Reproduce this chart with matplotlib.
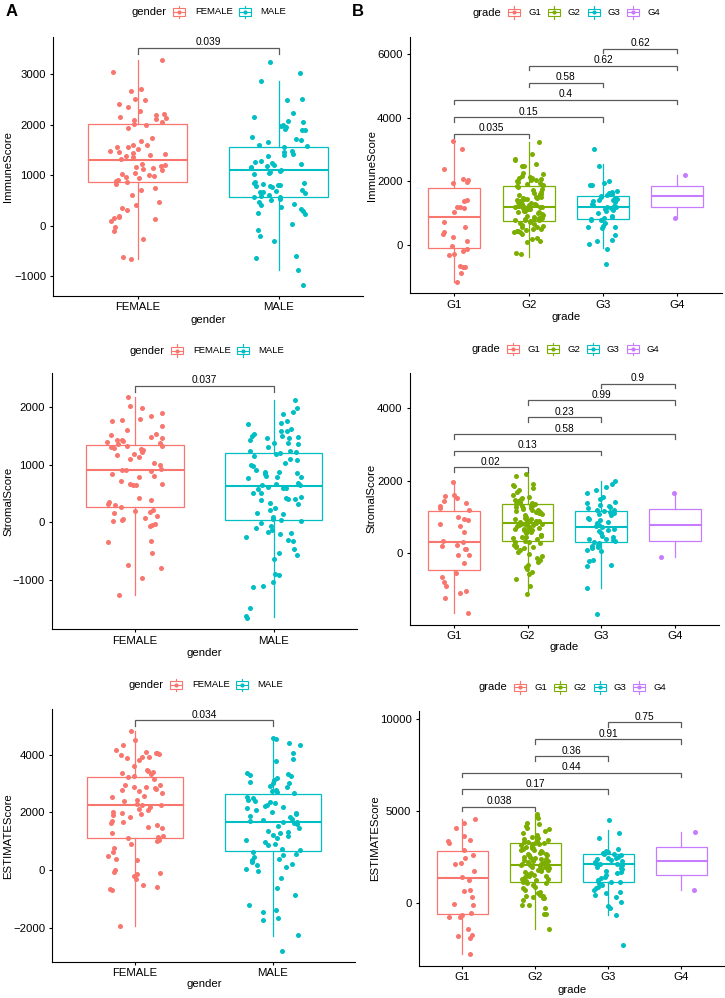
import numpy as np
import matplotlib
matplotlib.use("Agg")
import matplotlib.pyplot as plt
import matplotlib.transforms as mtransforms
from matplotlib.patches import Rectangle
from matplotlib.lines import Line2D

plt.rcParams['font.family'] = ['Liberation Sans', 'DejaVu Sans']

W, H, DPI = 725, 998, 100

# ---------------- categories / colours ----------------
gender_levels = ["FEMALE", "MALE"]
grade_levels = ["G1", "G2", "G3", "G4"]
gender_colors = ["#F8766D", "#00BFC4"]
grade_colors = ["#F8766D", "#7CAE00", "#00BFC4", "#C77CFF"]

# ---------------- ImmuneScore by gender ----------------
immune_female = [3280, 3040, 2700, 2660, 2510, 2480, 2400, 2350, 2280, 2220, 2200, 2160, 2130, 2110, 2090,
                 2050, 2020, 2000, 1940, 1740, 1680, 1600, 1590, 1560, 1550, 1520, 1480, 1460, 1440, 1420,
                 1400, 1370, 1350, 1320, 1220, 1200, 1180, 1160, 1150, 1120, 1100, 1040, 1020, 1000, 980,
                 960, 950, 910, 890, 860, 820, 740, 710, 610, 470, 400, 340, 310, 200, 180, 160, 140, 100,
                 -20, -110, -260, -630, -670]
immune_male = [3240, 3020, 2860, 2500, 2490, 2230, 2150, 2080, 2050, 2000, 1970, 1950, 1920, 1900, 1890,
               1750, 1720, 1690, 1650, 1600, 1570, 1550, 1470, 1450, 1420, 1390, 1380, 1280, 1260, 1240,
               1220, 1200, 1180, 1160, 1140, 1110, 1090, 1070, 1050, 1030, 860, 850, 840, 830, 810, 800,
               790, 780, 760, 700, 690, 670, 660, 640, 600, 580, 570, 560, 520, 500, 460, 430, 410, 370,
               330, 300, 250, 230, 40, -90, -210, -300, -610, -650, -870, -1180]
# box stats: [whisker low, Q1, median, Q3, whisker high]
immune_gender_box = [[-653, 865, 1294, 2007, 3287], [-871, 574, 1096, 1564, 2865]]
immune_gender_p = ["0.039"]
immune_gender_bracket_y = [3518]

# ---------------- ImmuneScore by grade ----------------
immune_g1 = [3280, 3020, 2380, 2080, 2040, 1980, 1940, 1410, 1370, 1210, 1200, 1150, 1050, 710, 580, 400,
             350, 240, 130, -30, -130, -180, -280, -330, -650, -680, -690, -870, -1180]
immune_g2 = [3240, 2860, 2710, 2660, 2540, 2500, 2480, 2250, 2230, 2170, 2140, 2120, 2100, 2070, 2040, 2010,
             1970, 1940, 1910, 1870, 1820, 1750, 1720, 1680, 1640, 1610, 1580, 1560, 1520, 1490, 1470, 1450,
             1440, 1400, 1370, 1340, 1320, 1290, 1270, 1250, 1230, 1210, 1200, 1180, 1140, 1120, 1100, 1080,
             1060, 1040, 1000, 940, 910, 880, 850, 840, 820, 810, 790, 770, 750, 700, 660, 640, 610, 580,
             510, 490, 470, 430, 420, 400, 360, 220, 180, 140, 100, -260, -300, 1600, 1500, 1350, 1300,
             1150, 1050, 960, 800, 720, 560, 450, 1900, 2050, 1180, 1220, 860]
immune_g3 = [3030, 2500, 2000, 1950, 1890, 1900, 1700, 1680, 1650, 1600, 1580, 1550, 1500, 1480, 1450, 1420,
             1400, 1380, 1340, 1300, 1250, 1230, 1200, 1180, 1150, 1120, 1100, 1060, 1000, 900, 870, 840,
             820, 800, 790, 700, 600, 560, 550, 540, 300, 170, 130, 20, -120, -610]
immune_g4 = [2200, 860]
immune_grade_box = [[-1175, -84, 881, 1783, 3252], [-367, 766, 1196, 1857, 3252],
                    [-105, 818, 1206, 1542, 2549], [860, 1195, 1530, 1865, 2200]]
grade_pairs = [(1, 2), (1, 3), (1, 4), (2, 3), (2, 4), (3, 4)]
immune_grade_p = ["0.035", "0.15", "0.4", "0.58", "0.62", "0.62"]
immune_grade_bracket_y = [3503, 4017, 4573, 5108, 5633, 6168]

# ---------------- StromalScore by gender ----------------
stromal_female = [2170, 2010, 1990, 1900, 1850, 1790, 1780, 1760, 1670, 1600, 1540, 1510, 1480, 1470, 1430,
                  1420, 1410, 1400, 1370, 1350, 1330, 1320, 1300, 1290, 1280, 1250, 1220, 1190, 1170, 1140,
                  1100, 1020, 1000, 920, 910, 900, 890, 830, 810, 790, 720, 670, 660, 650, 640, 420, 380,
                  360, 310, 300, 270, 210, 200, 180, 170, 110, 80, 60, 40, 30, -30, -40, -60, -330, -340,
                  -530, -740, -790, -960, -1260]
stromal_male = [2120, 1990, 1920, 1880, 1760, 1730, 1710, 1620, 1590, 1580, 1540, 1500, 1490, 1480, 1470,
                1460, 1430, 1380, 1370, 1360, 1310, 1240, 1230, 1220, 1210, 1180, 1150, 1090, 1080, 1020,
                1000, 980, 910, 880, 870, 860, 840, 810, 790, 780, 760, 680, 660, 650, 640, 620, 600, 590,
                580, 510, 500, 440, 430, 410, 400, 390, 340, 320, 240, 210, 170, 140, 100, 60, 40, 20, -10,
                -60, -100, -130, -170, -180, -200, -260, -310, -330, -470, -540, -570, -640, -900, -910,
                -1040, -1110, -1130, -1490, -1620, -1660]
stromal_gender_box = [[-1260, 260, 913, 1335, 2168], [-1647, 40, 624, 1208, 2121]]
stromal_gender_p = ["0.037"]
stromal_gender_bracket_y = [2370]

# ---------------- StromalScore by grade ----------------
stromal_g1 = [1960, 1600, 1580, 1530, 1450, 1400, 1320, 1240, 1210, 1000, 960, 920, 800, 750, 600, 330, 300,
              230, 210, 120, 110, -40, -50, -260, -550, -640, -780, -900, -1030, -1100, -1240, -1640]
stromal_g2 = [2180, 2140, 1900, 1880, 1860, 1800, 1740, 1690, 1610, 1560, 1540, 1510, 1470, 1440, 1420, 1400,
              1380, 1350, 1330, 1310, 1270, 1240, 1210, 1200, 1170, 1140, 1100, 1080, 1050, 1010, 980, 950,
              920, 890, 870, 850, 830, 810, 790, 770, 750, 740, 710, 680, 660, 640, 610, 590, 550, 520, 480,
              460, 420, 390, 350, 310, 280, 230, 200, 180, 170, 140, 90, 50, -20, -60, -120, -170, -230,
              -320, -370, -440, -520, -570, -720, -900, -1130, 1300, 1250, 1220, 900, 860, 820, 780, 700,
              650, 600, 500, 440, 1450, 1350, 800, 1150, 950, 300]
stromal_g3 = [1990, 1910, 1840, 1750, 1670, 1560, 1490, 1420, 1380, 1330, 1300, 1270, 1240, 1210, 1190, 1170,
              1140, 1100, 1080, 1050, 980, 960, 920, 870, 830, 790, 750, 740, 660, 640, 610, 550, 480, 440,
              410, 390, 370, 340, 310, 280, 230, 200, 180, 140, 90, 60, -180, -220, -330, -350, -950, -1660]
stromal_g4 = [1670, -100]
stromal_grade_box = [[-1637, -460, 303, 1159, 1959], [-1131, 331, 846, 1361, 2207],
                     [-947, 303, 717, 1177, 1995], [-100, 342, 785, 1228, 1670]]
stromal_grade_p = ["0.02", "0.13", "0.58", "0.23", "0.99", "0.9"]
stromal_grade_bracket_y = [2372, 2832, 3283, 3752, 4221, 4680]

# ---------------- ESTIMATEScore by gender ----------------
estimate_female = [4830, 4520, 4330, 4170, 4100, 4060, 4050, 4020, 4000, 3940, 3910, 3890, 3820, 3610, 3470,
                   3450, 3400, 3360, 3320, 3270, 3240, 3160, 2960, 2940, 2900, 2870, 2860, 2800, 2780, 2760,
                   2680, 2580, 2550, 2440, 2380, 2290, 2270, 2250, 2200, 2130, 2090, 2030, 1970, 1930, 1900,
                   1850, 1710, 1660, 1620, 1560, 1510, 1460, 1270, 1190, 1160, 1100, 1040, 1020, 900, 780,
                   640, 490, 370, 350, 0, -80, -120, -150, -200, -310, -530, -600, -650, -700, -1930]
estimate_male = [4600, 4560, 4420, 4350, 4050, 3870, 3800, 3370, 3340, 3290, 3250, 3200, 3110, 3060, 3030,
                 3010, 2930, 2870, 2780, 2740, 2710, 2660, 2550, 2510, 2430, 2400, 2360, 2320, 2270, 2240,
                 2200, 2150, 2080, 2030, 1970, 1930, 1890, 1850, 1760, 1730, 1700, 1680, 1660, 1620, 1600,
                 1540, 1450, 1370, 1330, 1300, 1230, 1190, 1120, 1040, 980, 920, 870, 720, 680, 640, 570,
                 520, 440, 390, 350, 290, 210, 160, 120, 30, -20, -280, -640, -860, -1220, -1390, -1450,
                 -1680, -1740, -2260, -2800]
estimate_gender_box = [[-1934, 1100, 2259, 3243, 4830], [-2282, 649, 1680, 2653, 4610]]
estimate_gender_p = ["0.034"]
estimate_gender_bracket_y = [5201]

# ---------------- ESTIMATEScore by grade ----------------
estimate_g1 = [4590, 4380, 4100, 3650, 3440, 3380, 3290, 2890, 2620, 2440, 2170, 2120, 1740, 1450, 1270, 720,
               670, 360, -40, -90, -510, -630, -720, -760, -1370, -1720, -1900, -1760, -2770]
estimate_g2 = [4840, 4740, 4610, 4380, 4290, 4200, 4100, 4010, 3940, 3830, 3710, 3620, 3530, 3470, 3440, 3400,
               3350, 3290, 3260, 3200, 3150, 3070, 3020, 2970, 2890, 2840, 2790, 2710, 2660, 2600, 2530, 2480,
               2420, 2390, 2350, 2300, 2240, 2190, 2130, 2080, 2030, 1970, 1920, 1860, 1810, 1750, 1700, 1630,
               1560, 1480, 1410, 1340, 1270, 1180, 1090, 1000, 900, 810, 720, 630, 540, 450, 400, 330, 270,
               180, -90, -270, -580, -1410, 3300, 3200, 3100, 2900, 2800, 2600, 2500, 2400, 2300, 2200, 2100,
               2000, 1900, 1800, 1500, 1300, 1200, 1100, 3000, 2700, 2250, 2150, 1950, 1600, 400, 300, -100,
               -600]
estimate_g3 = [4520, 3800, 3560, 2930, 2860, 2800, 2750, 2680, 2620, 2530, 2480, 2420, 2350, 2300, 2240, 2170,
               2120, 2060, 1990, 1920, 1840, 1770, 1700, 1630, 1540, 1450, 1360, 1270, 1180, 1090, 1000, 900,
               810, 720, 630, 540, 450, 360, 90, -140, -240, -610, -2240, 2650, 2450, 2200, 2150, 2100, 1200,
               1150]
estimate_g4 = [3850, 750]
estimate_grade_box = [[-2767, -597, 1356, 2857, 4557], [-1410, 1157, 2061, 3255, 4846],
                      [-633, 1157, 2134, 2694, 3978], [750, 1525, 2300, 3075, 3850]]
estimate_grade_p = ["0.038", "0.17", "0.44", "0.36", "0.91", "0.75"]
estimate_grade_bracket_y = [5226, 6184, 7071, 7975, 8897, 9819]

# ---------------- panel layout (pixels) ----------------
panels = [
    dict(rect=(53.3, 37, 363, 296), ylab="ImmuneScore", xlab="gender", levels=gender_levels,
         colors=gender_colors, data=[immune_female, immune_male], box=immune_gender_box,
         pairs=[(1, 2)], pv=immune_gender_p, by=immune_gender_bracket_y,
         ylim=(-1393, 3736), yticks=[-1000, 0, 1000, 2000, 3000], ylx=8.3, xly=320,
         leg=(132, 12), tip=6),
    dict(rect=(409.7, 37.3, 722, 293.3), ylab="ImmuneScore", xlab="grade", levels=grade_levels,
         colors=grade_colors, data=[immune_g1, immune_g2, immune_g3, immune_g4], box=immune_grade_box,
         pairs=grade_pairs, pv=immune_grade_p, by=immune_grade_bracket_y,
         ylim=(-1521, 6535), yticks=[0, 2000, 4000, 6000], ylx=372, xly=316.7,
         leg=(472.7, 12.5), tip=4.5),
    dict(rect=(51.7, 373.3, 357, 629.3), ylab="StromalScore", xlab="gender", levels=gender_levels,
         colors=gender_colors, data=[stromal_female, stromal_male], box=stromal_gender_box,
         pairs=[(1, 2)], pv=stromal_gender_p, by=stromal_gender_bracket_y,
         ylim=(-1855, 2584), yticks=[-1000, 0, 1000, 2000], ylx=8.3, xly=652.7,
         leg=(130, 350.7), tip=6),
    dict(rect=(409.7, 372.7, 719, 624.7), ylab="StromalScore", xlab="grade", levels=grade_levels,
         colors=grade_colors, data=[stromal_g1, stromal_g2, stromal_g3, stromal_g4], box=stromal_grade_box,
         pairs=grade_pairs, pv=stromal_grade_p, by=stromal_grade_bracket_y,
         ylim=(-1968, 4984), yticks=[0, 2000, 4000], ylx=371, xly=647.3,
         leg=(472, 349), tip=4.5),
    dict(rect=(52.3, 709.3, 355.5, 962), ylab="ESTIMATEScore", xlab="gender", levels=gender_levels,
         colors=gender_colors, data=[estimate_female, estimate_male], box=estimate_gender_box,
         pairs=[(1, 2)], pv=estimate_gender_p, by=estimate_gender_bracket_y,
         ylim=(-3197, 5583), yticks=[-2000, 0, 2000, 4000], ylx=8.3, xly=984,
         leg=(129, 685), tip=6),
    dict(rect=(418.7, 711, 725, 966), ylab="ESTIMATEScore", xlab="grade", levels=grade_levels,
         colors=grade_colors, data=[estimate_g1, estimate_g2, estimate_g3, estimate_g4],
         box=estimate_grade_box, pairs=grade_pairs, pv=estimate_grade_p, by=estimate_grade_bracket_y,
         ylim=(-3400, 10434), yticks=[0, 5000, 10000], ylx=375.3, xly=990,
         leg=(478.7, 687.3), tip=4.5),
]

fig = plt.figure(figsize=(W / DPI, H / DPI), dpi=DPI)
# pixel (top-left origin) -> figure transform
px = mtransforms.Affine2D().scale(1.0 / W, -1.0 / H).translate(0, 1) + fig.transFigure


def jitter(n, seed, width=0.2):
    # deterministic scattered horizontal offsets (hash of the index), only for point placement
    k = np.arange(n) + 1.0 + seed * 101.0
    u = (np.sin(k * 12.9898 + seed * 78.233) * 43758.5453) % 1.0
    return (u - 0.5) * 2 * width


def draw_legend(title, levels, colors, x0, y0, gender):
    if gender:
        key_off, txt_off, step = 47.5, 63.0, 65.6
    else:
        key_off, txt_off, step = 41.5, 55.6, 39.7
    fig.text(x0, y0, title, transform=px, ha="left", va="center", fontsize=8)
    for i, (lev, c) in enumerate(zip(levels, colors)):
        cx = x0 + key_off + i * step
        bw, bh = 12.0, 7.5
        fig.add_artist(Rectangle((cx - bw / 2, y0 - bh / 2), bw, bh, transform=px,
                                 facecolor="white", edgecolor=c, linewidth=0.8))
        fig.add_artist(Line2D([cx, cx], [y0 - bh / 2 - 2.5, y0 - bh / 2], transform=px, color=c, lw=0.8))
        fig.add_artist(Line2D([cx, cx], [y0 + bh / 2, y0 + bh / 2 + 2.5], transform=px, color=c, lw=0.8))
        fig.add_artist(Line2D([cx - bw / 2, cx + bw / 2], [y0, y0], transform=px, color=c, lw=0.8))
        fig.add_artist(Line2D([cx], [y0], transform=px, color=c, marker="o", markersize=3.0,
                              markeredgewidth=0))
        fig.text(x0 + txt_off + i * step, y0, lev, transform=px, ha="left", va="center", fontsize=6.8)


for pi, p in enumerate(panels):
    l, t, r, b = p["rect"]
    ax = fig.add_axes([l / W, 1 - b / H, (r - l) / W, (b - t) / H])
    n = len(p["levels"])
    pos = np.arange(1, n + 1)
    for i, (vals, st, c) in enumerate(zip(p["data"], p["box"], p["colors"])):
        stats = [dict(whislo=st[0], q1=st[1], med=st[2], q3=st[3], whishi=st[4], fliers=[])]
        ax.bxp(stats, positions=[pos[i]], widths=0.7, showfliers=False, showcaps=False,
               patch_artist=True,
               boxprops=dict(facecolor="white", edgecolor=c, linewidth=0.9),
               whiskerprops=dict(color=c, linewidth=0.9),
               medianprops=dict(color=c, linewidth=1.5), zorder=2)
        v = np.asarray(vals, dtype=float)
        ax.scatter(pos[i] + jitter(len(v), pi * 4 + i), v, s=13, color=c, linewidths=0, zorder=3)

    ax.set_xlim(0.4, n + 0.6)
    ax.set_ylim(*p["ylim"])
    ax.set_yticks(p["yticks"])
    ax.set_xticks(pos)
    ax.set_xticklabels(p["levels"])
    for s in ["top", "right"]:
        ax.spines[s].set_visible(False)
    for s in ["left", "bottom"]:
        ax.spines[s].set_linewidth(0.8)
        ax.spines[s].set_color("black")
    ax.tick_params(axis="both", length=2.2, width=0.8, labelsize=8.2, color="black", labelcolor="black")
    ax.tick_params(axis="x", pad=2.4)
    ax.tick_params(axis="y", pad=3.0)
    ax.set_facecolor("none")

    # brackets
    axh = b - t
    yr = p["ylim"][1] - p["ylim"][0]
    tip = p["tip"] / axh * yr
    for (g1, g2), lab, yb in zip(p["pairs"], p["pv"], p["by"]):
        ax.plot([g1, g1, g2, g2], [yb - tip, yb, yb, yb - tip], color="#5a5a5a", lw=0.9,
                solid_joinstyle="miter", zorder=4, clip_on=False)
        ax.annotate(lab, xy=((g1 + g2) / 2, yb), xytext=(0, 2.0), textcoords="offset points",
                    ha="center", va="baseline", fontsize=7.3, color="black")

    ax.set_ylabel(p["ylab"], fontsize=8.2, va="center")
    ax.yaxis.set_label_coords(p["ylx"] / W, 1 - ((t + b) / 2) / H, transform=fig.transFigure)
    ax.set_xlabel(p["xlab"], fontsize=8.2, va="center")
    ax.xaxis.set_label_coords(((l + r) / 2) / W, 1 - p["xly"] / H, transform=fig.transFigure)

    draw_legend(p["xlab"], p["levels"], p["colors"], p["leg"][0], p["leg"][1], p["xlab"] == "gender")

fig.text(11.5, 12, "A", transform=px, ha="center", va="center", fontsize=12, fontweight="bold")
fig.text(358, 12, "B", transform=px, ha="center", va="center", fontsize=12, fontweight="bold")

fig.savefig("out.png", dpi=DPI)
